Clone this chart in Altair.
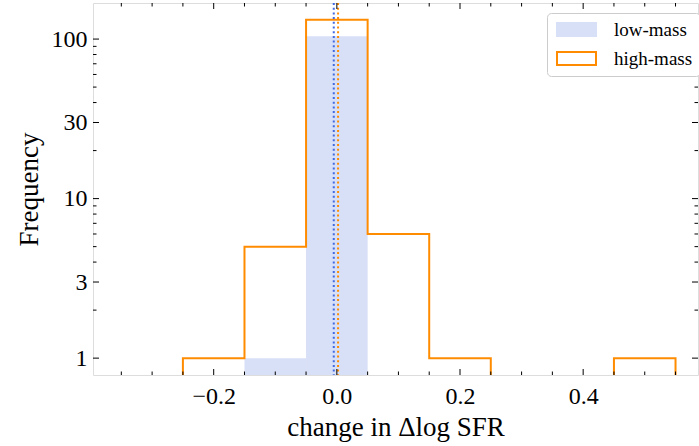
import altair as alt
import pandas as pd

# ---- data ----
bin_edges = [-0.25, -0.15, -0.05, 0.05, 0.15, 0.25, 0.35, 0.45, 0.55]
low_counts = [0, 1, 104, 0, 0, 0, 0, 0]
high_counts = [1, 5, 132, 6, 1, 0, 0, 1]
low_median = -0.005
high_median = 0.002

x_major = [-0.2, 0.0, 0.2, 0.4]
x_minor = [-0.35, -0.3, -0.25, -0.15, -0.1, -0.05, 0.05, 0.1, 0.15, 0.25, 0.3, 0.35, 0.45, 0.5, 0.55]
y_major = [1, 3, 10, 30, 100]
y_minor = [2, 4, 5, 6, 7, 8, 9, 20, 40, 50, 60, 70, 80, 90]

LIGHT = "#d8e0f7"
ORANGE = "#ff8c00"
BLUE = "#4169e1"
FONT = "Liberation Serif"

W, H = 605, 372
x_dom = [-0.396, 0.5865]
y_dom = [0.784, 168.3]
FLOOR = 0.1  # stand-in for empty bins on the log axis (clipped away)

series_dom = ["low-mass", "high-mass"]

# low-mass filled bars (non-empty bins)
low_df = pd.DataFrame({
    "x0": bin_edges[:-1], "x1": bin_edges[1:], "count": low_counts,
    "series": "low-mass",
})
low_df = low_df[low_df["count"] > 0]

# high-mass step outline vertices
verts_x, verts_y = [bin_edges[0]], [FLOOR]
for i, c in enumerate(high_counts):
    v = c if c > 0 else FLOOR
    verts_x += [bin_edges[i], bin_edges[i + 1]]
    verts_y += [v, v]
verts_x.append(bin_edges[-1])
verts_y.append(FLOOR)
high_df = pd.DataFrame({"x": verts_x, "y": verts_y, "order": range(len(verts_x)),
                        "series": "high-mass"})

xs = alt.Scale(domain=x_dom, nice=False, zero=False)
ys = alt.Scale(type="log", domain=y_dom, nice=False)

# legend patch: 39x13 rectangle (path units scaled by sqrt(size)/2 = 6.5)
sym = "M-1,-1H5V1H-1Z"
leg = alt.Legend(
    title=None, orient="none", legendX=454, legendY=10,
    symbolType=sym, symbolSize=169, symbolStrokeWidth=2,
    labelFont=FONT, labelFontSize=19, labelColor="black", labelOffset=41,
    rowPadding=8, padding=7, fillColor="white", strokeColor="#cccccc",
    cornerRadius=4, symbolOpacity=1,
)

bars = alt.Chart(low_df).mark_rect(clip=True).encode(
    x=alt.X("x0:Q", scale=xs,
            axis=alt.Axis(values=x_major, format=".1f", title="change in Δlog SFR",
                          ticks=False, domain=False, grid=False,
                          labelFont=FONT, labelFontSize=24, labelColor="black",
                          labelPadding=9, titleFont=FONT, titleFontSize=27,
                          titleFontWeight="normal", titleColor="black", titlePadding=6)),
    x2="x1:Q",
    y=alt.Y("count:Q", scale=ys,
            axis=alt.Axis(values=y_major, format="d", title="Frequency",
                          ticks=False, domain=False, grid=False,
                          labelFont=FONT, labelFontSize=24, labelColor="black",
                          labelPadding=6, titleFont=FONT, titleFontSize=27,
                          titleFontWeight="normal", titleColor="black", titlePadding=8)),
    y2=alt.value(H),
    fill=alt.Fill("series:N", scale=alt.Scale(domain=series_dom, range=[LIGHT, "white"]), legend=leg),
)

step = alt.Chart(high_df).mark_line(clip=True, strokeWidth=2, strokeJoin="miter").encode(
    x=alt.X("x:Q", scale=xs),
    y=alt.Y("y:Q", scale=ys),
    order="order:Q",
    stroke=alt.Stroke("series:N", scale=alt.Scale(domain=series_dom, range=[LIGHT, ORANGE]), legend=leg),
)

med_df = pd.DataFrame({"m": [low_median, high_median], "c": [BLUE, ORANGE]})
meds = alt.Chart(med_df).mark_rule(strokeWidth=2, strokeDash=[2, 2.7]).encode(
    x=alt.X("m:Q", scale=xs),
    y=alt.value(0), y2=alt.value(H),
    color=alt.Color("c:N", scale=None, legend=None),
)

def xticks(vals, length):
    d = pd.DataFrame({"t": vals})
    b = alt.Chart(d).mark_rule(color="black", strokeWidth=1).encode(
        x=alt.X("t:Q", scale=xs), y=alt.value(H), y2=alt.value(H - length))
    t = alt.Chart(d).mark_rule(color="black", strokeWidth=1).encode(
        x=alt.X("t:Q", scale=xs), y=alt.value(0), y2=alt.value(length))
    return [b, t]

def yticks(vals, length):
    d = pd.DataFrame({"t": vals})
    l = alt.Chart(d).mark_rule(color="black", strokeWidth=1).encode(
        y=alt.Y("t:Q", scale=ys), x=alt.value(0), x2=alt.value(length))
    r = alt.Chart(d).mark_rule(color="black", strokeWidth=1).encode(
        y=alt.Y("t:Q", scale=ys), x=alt.value(W), x2=alt.value(W - length))
    return [l, r]

ticks = xticks(x_major, 6) + xticks(x_minor, 3.5) + yticks(y_major, 6) + yticks(y_minor, 3.5)

chart = alt.layer(bars, step, meds, *ticks).properties(
    width=W, height=H,
    autosize=alt.AutoSizeParams(type="none"),
    padding={"left": 93, "top": 3, "right": 1, "bottom": 71},
).configure_view(stroke="black", strokeWidth=1.5).configure(background="white")

chart.save("out.html", embed_options={"renderer": "svg", "actions": False})
